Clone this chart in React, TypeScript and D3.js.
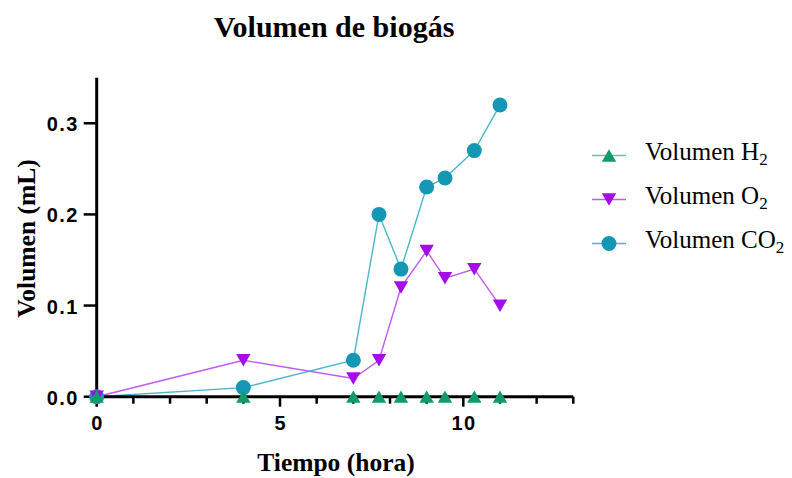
import React from "react";
import * as d3 from "d3";

// tiempo (hora)
const tiempo = [0, 4, 7, 7.7, 8.3, 9, 9.5, 10.3, 11];
const volH2 = [0, 0, 0, 0, 0, 0, 0, 0, 0];
const volO2 = [0, 0.04, 0.02, 0.04, 0.12, 0.16, 0.13, 0.14, 0.1];
const volCO2 = [0, 0.01, 0.04, 0.2, 0.14, 0.23, 0.24, 0.27, 0.32];

const xTicks = [0, 5, 10];
const xMinor = d3.range(0, 14, 1);
const yTicks = [0, 0.1, 0.2, 0.3];

const seriesNames = ["H", "O", "CO"];
const colors = ["#129a6a", "#a40de8", "#1497b4"];
const lineColors = ["#5cc6a0", "#c25cf0", "#4bb7ca"];

const W = 792;
const H = 478;
const left = 96.7;
const right = 573.3;
const top = 77.7;
const bottom = 396.7;

const sans = "'Liberation Sans', Arial, sans-serif";
const serif = "'Liberation Serif', 'Times New Roman', serif";

function Marker({ kind, x, y, color }: { kind: number; x: number; y: number; color: string }) {
  if (kind === 2) return <circle cx={x} cy={y} r={7.5} fill={color} />;
  const sym = d3.symbol().type(d3.symbolTriangle).size(90)();
  const rot = kind === 1 ? 180 : 0;
  const dy = kind === 1 ? -2 : 2;
  return <path d={sym || ""} fill={color} transform={`translate(${x},${y + dy}) rotate(${rot})`} />;
}

export default function App() {
  const x = d3.scaleLinear().domain([0, 13]).range([left, right]);
  const y = d3.scaleLinear().domain([0, 0.35]).range([bottom, top]);
  const line = d3
    .line<number>()
    .x((_, i) => x(tiempo[i]))
    .y((d) => y(d));

  const all = [volH2, volO2, volCO2];
  // CO2 bajo, H2 encima
  const order = [2, 1, 0];

  return (
    <svg width={W} height={H} style={{ position: "absolute", left: 0, top: 0, background: "#fff" }}>
      <text x={334} y={37} textAnchor="middle" fontFamily={serif} fontWeight="bold" fontSize={30}>
        Volumen de biogás
      </text>

      {order.map((k) => (
        <path key={"l" + k} d={line(all[k]) || ""} fill="none" stroke={lineColors[k]} strokeWidth={1.4} />
      ))}

      {/* ejes */}
      <line x1={left} x2={left} y1={top} y2={bottom + 1.5} stroke="#000" strokeWidth={3} />
      <line x1={left - 1.5} x2={right} y1={bottom} y2={bottom} stroke="#000" strokeWidth={3} />
      {xMinor.map((t) => (
        <line
          key={"xm" + t}
          x1={x(t)}
          x2={x(t)}
          y1={bottom}
          y2={bottom + (t % 5 === 0 ? 10 : 7)}
          stroke="#000"
          strokeWidth={2.5}
        />
      ))}
      {xTicks.map((t) => (
        <text
          key={"xt" + t}
          x={x(t) + 0.7}
          y={bottom + 33}
          textAnchor="middle"
          fontFamily={sans}
          fontWeight="bold"
          fontSize={20}
          letterSpacing={1.4}
        >
          {t}
        </text>
      ))}
      {yTicks.map((t) => (
        <g key={"yt" + t}>
          <line x1={left - 13} x2={left} y1={y(t)} y2={y(t)} stroke="#000" strokeWidth={2.5} />
          <text
            x={left - 18}
            y={y(t) + 8}
            textAnchor="end"
            fontFamily={sans}
            fontWeight="bold"
            fontSize={20}
            letterSpacing={1.4}
          >
            {t.toFixed(1)}
          </text>
        </g>
      ))}
      <text x={336} y={471} textAnchor="middle" fontFamily={serif} fontWeight="bold" fontSize={25.5}>
        Tiempo (hora)
      </text>
      <text
        transform={`translate(35,${238.5}) rotate(-90)`}
        textAnchor="middle"
        fontFamily={serif}
        fontWeight="bold"
        fontSize={25.5}
      >
        Volumen (mL)
      </text>

      {order.map((k) =>
        all[k].map((v, i) => <Marker key={"m" + k + "-" + i} kind={k} x={x(tiempo[i])} y={y(v)} color={colors[k]} />)
      )}

      {/* leyenda */}
      {seriesNames.map((n, k) => {
        const ly = 155.5 + k * 44;
        return (
          <g key={"lg" + k}>
            <line x1={592} x2={626} y1={ly} y2={ly} stroke={lineColors[k]} strokeWidth={1.4} />
            <Marker kind={k} x={609} y={ly} color={colors[k]} />
            <text x={645} y={ly + 4} fontFamily={serif} fontSize={25}>
              Volumen {n}
              <tspan fontSize={17} dy={5}>
                2
              </tspan>
            </text>
          </g>
        );
      })}
    </svg>
  );
}
